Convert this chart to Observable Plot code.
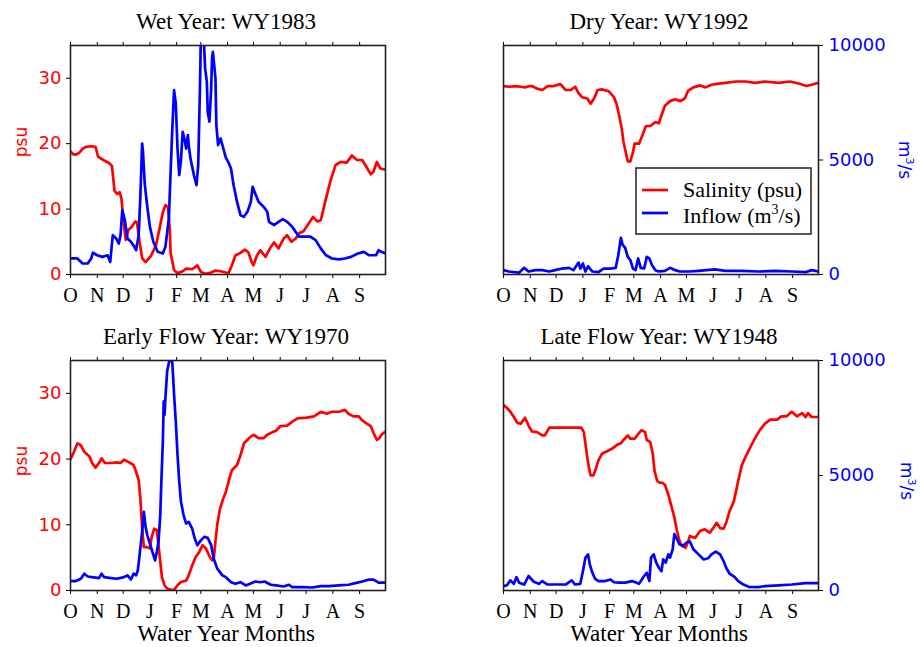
<!DOCTYPE html>
<html><head><meta charset="utf-8">
<script src="https://cdn.jsdelivr.net/npm/d3@7"></script>
<script src="https://cdn.jsdelivr.net/npm/@observablehq/plot@0.6"></script>
<style>
body{margin:0;background:#fff;}
#wrap{position:relative;width:920px;height:647px;overflow:hidden;background:#fff;}
#wrap svg{position:absolute;}
</style></head>
<body><div id="wrap"></div>
<script>
// Water-year day index: 0 = Oct 1, 365 = Sep 30
const monthDays = [0,31,61,92,123,151,182,212,243,273,304,335];
const monthLabels = ["O","N","D","J","F","M","A","M","J","J","A","S"];
const psuTicks = [0,10,20,30];
const flowTicks = [0,5000,10000];
const panelTitles = ["Wet Year: WY1983","Dry Year: WY1992","Early Flow Year: WY1970","Late Flow Year: WY1948"];
const legendLabels = ["Salinity (psu)","Inflow (m","3","/s)"];
const xAxisTitle = "Water Year Months";

// [day, psu]
const wetSalinity = [[0,18.8],[3,18.4],[6,18.3],[10,18.6],[14,19.2],[18,19.5],[24,19.6],[29,19.5],[32,18.0],[38,17.5],[45,17.0],[48,16.6],[51,12.8],[54,12.3],[57,12.6],[59,11.6],[62,7.5],[64,5.3],[67,6.8],[71,7.3],[75,8.1],[77,8.0],[80,5.0],[83,2.5],[87,1.9],[93,2.8],[99,4.4],[103,6.9],[107,9.5],[110,10.6],[113,10.3],[115,6.9],[116,3.3],[120,0.7],[124,0.2],[130,0.5],[134,0.9],[141,0.8],[147,1.4],[151,0.4],[156,0.1],[161,0.2],[168,0.6],[174,0.5],[180,0.3],[183,0.2],[187,1.4],[191,2.9],[197,3.3],[202,3.8],[206,3.4],[210,1.9],[212,1.4],[216,2.9],[220,3.7],[226,2.7],[232,4.2],[236,4.9],[241,4.0],[247,5.5],[251,6.0],[256,5.0],[261,5.5],[265,6.3],[270,6.6],[276,7.8],[281,8.8],[286,8.1],[290,8.3],[296,11.6],[301,14.2],[307,16.7],[313,17.2],[320,17.1],[326,18.2],[332,17.5],[338,17.5],[344,16.2],[348,15.3],[351,15.7],[355,17.2],[359,16.2],[365,16.0]];
// [day, m3/s]
const wetInflow = [[0,700],[8,700],[14,480],[20,480],[24,700],[26,950],[31,840],[37,770],[43,840],[46,550],[49,1720],[53,1570],[56,1350],[58,1720],[60,2810],[63,2370],[66,1570],[70,1430],[74,1210],[76,1060],[79,1720],[81,3460],[83,5720],[84,5360],[86,3970],[89,2950],[92,2080],[96,1430],[101,990],[107,920],[110,1210],[114,2450],[116,4480],[118,6380],[120,8050],[122,7470],[124,5500],[126,4340],[128,4990],[130,6230],[132,5940],[134,5500],[136,6090],[137,5650],[139,5070],[143,4340],[146,3900],[148,4780],[150,8120],[151,10300],[154,10600],[156,9000],[158,8410],[159,7110],[161,6670],[163,8120],[164,9430],[165,9720],[168,8560],[169,6520],[171,5650],[174,5940],[176,5650],[180,5100],[183,4900],[186,4630],[189,3900],[193,3170],[197,2590],[201,2520],[205,2740],[209,3170],[211,3830],[214,3540],[218,3170],[224,2950],[228,2740],[230,2300],[236,2160],[241,2300],[246,2420],[251,2300],[257,2080],[261,1860],[265,1650],[270,1650],[278,1650],[284,1500],[290,1140],[296,840],[303,700],[311,660],[318,700],[325,770],[333,920],[340,990],[346,840],[354,840],[357,1060],[360,990],[365,920]];

const drySalinity = [[0,28.8],[7,28.7],[14,28.8],[20,28.7],[25,28.6],[30,28.8],[33,28.8],[39,28.4],[45,28.2],[51,28.8],[58,28.8],[66,29.1],[72,28.2],[78,28.2],[83,28.7],[87,27.7],[91,27.1],[97,26.9],[101,26.1],[105,26.9],[109,28.2],[114,28.3],[122,28.0],[128,27.1],[131,26.1],[134,24.3],[137,22.3],[139,20.3],[142,18.5],[144,17.3],[147,17.3],[150,18.7],[152,20.0],[157,20.0],[161,21.3],[165,22.7],[170,22.7],[176,23.3],[180,23.1],[183,24.3],[187,25.8],[193,26.5],[199,26.8],[205,26.5],[210,26.9],[214,28.1],[220,28.6],[228,28.9],[234,28.6],[241,29.0],[251,29.2],[257,29.3],[269,29.5],[280,29.5],[292,29.3],[303,29.5],[319,29.3],[332,29.5],[342,29.2],[351,28.8],[357,29.0],[365,29.3]];
const dryInflow = [[0,190],[6,130],[18,80],[24,290],[29,130],[37,190],[45,190],[53,130],[60,190],[68,260],[76,290],[81,190],[87,520],[89,260],[92,480],[95,130],[98,360],[103,130],[110,100],[116,260],[124,260],[130,290],[133,840],[136,1600],[138,1300],[141,1160],[144,770],[147,630],[150,260],[153,190],[156,700],[159,290],[163,260],[166,770],[169,700],[172,410],[176,190],[180,130],[187,160],[193,290],[199,190],[204,130],[216,130],[226,160],[245,220],[257,160],[276,160],[295,130],[315,160],[334,130],[350,100],[357,190],[365,130]];

const earlySalinity = [[0,20.0],[4,21.1],[8,22.4],[12,22.1],[16,21.1],[22,20.4],[25,19.4],[29,18.7],[33,19.4],[36,20.1],[40,19.4],[47,19.4],[54,19.5],[58,19.4],[62,19.9],[68,19.5],[73,19.1],[76,18.1],[79,16.8],[81,14.0],[83,9.4],[85,6.6],[89,6.6],[92,6.4],[94,8.1],[97,9.4],[100,9.2],[102,6.9],[104,4.4],[106,2.0],[109,0.8],[112,0.3],[116,0.1],[120,0.1],[124,0.8],[128,1.3],[134,1.5],[137,2.3],[141,3.8],[145,5.1],[149,5.8],[153,6.9],[157,6.4],[161,5.2],[164,4.6],[166,4.8],[168,7.5],[170,10.0],[173,12.3],[177,14.0],[180,15.0],[184,17.0],[187,18.3],[193,19.1],[197,20.6],[201,22.4],[207,23.2],[212,23.7],[218,23.2],[224,23.2],[228,23.7],[234,24.1],[238,24.3],[243,25.0],[251,25.1],[257,25.7],[263,26.2],[274,26.3],[282,26.5],[290,27.2],[297,26.9],[303,27.2],[311,27.2],[318,27.5],[322,26.9],[328,26.5],[334,26.5],[338,25.9],[342,25.5],[348,25.0],[351,24.0],[355,22.9],[358,23.2],[361,23.8],[365,24.2]];
const earlyInflow = [[0,410],[6,410],[12,510],[16,730],[20,610],[25,580],[33,540],[36,730],[39,580],[47,540],[54,510],[62,580],[66,660],[70,480],[73,730],[76,660],[78,870],[80,1530],[83,2550],[85,3420],[87,2770],[89,2400],[92,2040],[95,1670],[98,1310],[100,1670],[102,2110],[104,3280],[105,4440],[107,6480],[108,8220],[109,7640],[110,8370],[112,9540],[114,9900],[116,10200],[118,9900],[120,8520],[122,7350],[124,5900],[126,4730],[128,3860],[131,3280],[134,2910],[137,2980],[141,2690],[144,2260],[147,1970],[151,2180],[155,2330],[159,2290],[163,1970],[166,1380],[170,950],[176,660],[180,580],[186,360],[191,290],[197,360],[203,220],[208,290],[214,390],[220,360],[225,390],[232,250],[238,220],[247,175],[253,250],[257,150],[269,150],[280,130],[290,190],[299,190],[311,220],[322,250],[330,320],[338,390],[345,470],[351,470],[357,340],[365,340]];

const lateSalinity = [[0,28.2],[4,27.8],[8,27.2],[12,26.4],[16,25.5],[20,25.4],[25,26.3],[29,25.1],[33,24.2],[39,24.1],[45,23.6],[48,23.6],[53,24.8],[60,24.8],[76,24.8],[90,24.8],[93,24.1],[95,22.3],[97,20.3],[99,18.7],[101,17.5],[104,17.5],[107,18.5],[110,19.8],[114,20.8],[120,21.2],[126,21.6],[132,22.2],[136,22.4],[139,22.9],[144,23.6],[147,23.1],[152,23.1],[156,23.8],[160,24.4],[164,24.1],[166,22.9],[170,22.6],[173,20.8],[175,18.2],[178,16.7],[181,16.4],[184,16.4],[187,16.1],[191,14.6],[195,12.6],[198,11.1],[201,9.1],[204,7.5],[207,6.8],[211,6.5],[214,7.5],[216,8.3],[222,8.0],[228,9.1],[233,9.3],[239,8.8],[243,9.5],[247,10.3],[251,9.5],[255,9.4],[258,10.3],[262,12.1],[267,13.6],[272,16.7],[276,19.0],[281,20.5],[286,21.8],[292,23.3],[297,24.4],[303,25.4],[309,26.0],[317,26.0],[322,26.5],[328,26.5],[334,27.2],[340,26.5],[346,27.0],[350,26.4],[353,27.0],[357,26.4],[365,26.4]];
const lateInflow = [[0,190],[4,230],[8,440],[12,290],[15,580],[18,340],[24,260],[29,630],[35,380],[41,290],[45,410],[51,260],[60,260],[72,260],[79,440],[83,260],[89,290],[92,840],[95,1430],[98,1570],[100,1140],[103,770],[106,520],[110,410],[118,410],[124,480],[128,360],[134,340],[141,340],[149,410],[157,290],[163,630],[166,770],[169,410],[171,1430],[174,1570],[177,1210],[180,990],[183,840],[185,1350],[188,1210],[191,1570],[193,1430],[196,1790],[198,2450],[201,2230],[204,2010],[208,1940],[212,2080],[216,2130],[220,1790],[226,1570],[232,1350],[237,1400],[241,1570],[246,1690],[251,1570],[255,1280],[258,990],[262,730],[268,580],[272,410],[278,260],[284,160],[295,150],[303,190],[319,220],[334,260],[350,320],[365,320]];

const RED = "#ff0000", BLUE = "#0000ff";
const SERIF = "Liberation Serif, Times New Roman, serif";
const SANS = "DejaVu Sans, Verdana, sans-serif";

const panels = [
  {title: panelTitles[0], sal: wetSalinity, flow: wetInflow, x: 0, y: 0, h: 320, ml: 70, mr: 75, mt: 45, mb: 46, side: "left"},
  {title: panelTitles[1], sal: drySalinity, flow: dryInflow, x: 460, y: 0, h: 320, ml: 43, mr: 102, mt: 45, mb: 46, side: "right"},
  {title: panelTitles[2], sal: earlySalinity, flow: earlyInflow, x: 0, y: 320, h: 327, ml: 70, mr: 75, mt: 40, mb: 57, side: "left"},
  {title: panelTitles[3], sal: lateSalinity, flow: lateInflow, x: 460, y: 320, h: 327, ml: 43, mr: 102, mt: 40, mb: 57, side: "right"}
];

const wrap = document.getElementById("wrap");

for (const p of panels) {
  const common = {
    width: 460, height: p.h,
    marginLeft: p.ml, marginRight: p.mr, marginTop: p.mt, marginBottom: p.mb,
    x: {domain: [0, 365], axis: null},
    style: {background: "transparent", overflow: "visible"}
  };
  const salPlot = Plot.plot({
    ...common,
    y: {domain: [0, 35], axis: null},
    marks: [
      Plot.line(p.sal, {x: d => d[0], y: d => d[1], stroke: RED, strokeWidth: 2.7, clip: true}),
      ...(p.side === "left" ? [Plot.axisY(psuTicks, {anchor: "left", tickSize: 4, tickPadding: 5, stroke: "#000", fill: RED, fontSize: 18, fontFamily: SANS, label: null})] : []),
      Plot.axisX(monthDays, {anchor: "bottom", tickSize: 4, tickPadding: 9, stroke: "#000", fill: "#000", fontSize: 20, fontFamily: SERIF, label: null,
        tickFormat: d => monthLabels[monthDays.indexOf(d)]}),
      Plot.axisX(monthDays, {anchor: "top", tickSize: 4, stroke: "#000", fill: "none", label: null})
    ]
  });
  const flowPlot = Plot.plot({
    ...common,
    y: {domain: [0, 10000], axis: null},
    marks: [
      Plot.line(p.flow, {x: d => d[0], y: d => d[1], stroke: BLUE, strokeWidth: 2.7, clip: true}),
      ...(p.side === "right" ? [Plot.axisY(flowTicks, {anchor: "right", tickSize: 4, tickPadding: 6, stroke: "#000", fill: BLUE, fontSize: 18, fontFamily: SANS, label: null, tickFormat: d => String(d)})] : []),
      Plot.frame({stroke: "#222", strokeWidth: 1.6})
    ]
  });
  for (const s of [salPlot, flowPlot]) {
    s.style.left = p.x + "px";
    s.style.top = p.y + "px";
    wrap.appendChild(s);
  }
}

// Text overlay: titles, axis titles, legend
const svg = d3.select(wrap).append("svg")
  .attr("width", 920).attr("height", 647)
  .style("left", "0px").style("top", "0px").style("pointer-events", "none");

const titlePos = [[226, 28.5], [659, 28.5], [226, 344], [659, 344]];
panels.forEach((p, i) => {
  svg.append("text").attr("x", titlePos[i][0]).attr("y", titlePos[i][1])
    .attr("text-anchor", "middle").attr("font-family", SERIF).attr("font-size", 23).attr("fill", "#000")
    .text(p.title);
});
[[226, 641], [659, 641]].forEach(([x, y]) => {
  svg.append("text").attr("x", x).attr("y", y).attr("text-anchor", "middle")
    .attr("font-family", SERIF).attr("font-size", 23).attr("fill", "#000").text(xAxisTitle);
});
[[21, 142], [21, 461]].forEach(([x, y]) => {
  svg.append("text").attr("transform", `translate(${x},${y}) rotate(-90)`)
    .attr("text-anchor", "middle").attr("dy", "0.35em")
    .attr("font-family", SANS).attr("font-size", 17).attr("fill", RED).text("psu");
});
[[905, 160], [907, 481]].forEach(([x, y]) => {
  const t = svg.append("text").attr("transform", `translate(${x},${y}) rotate(90)`)
    .attr("text-anchor", "middle").attr("dy", "0.35em")
    .attr("font-family", SANS).attr("font-size", 17).attr("fill", BLUE);
  t.append("tspan").text("m");
  t.append("tspan").attr("dy", -7).attr("font-size", 11).text("3");
  t.append("tspan").attr("dy", 7).text("/s");
});

// Legend (top-right panel)
const lg = svg.append("g");
lg.append("rect").attr("x", 636).attr("y", 168).attr("width", 175).attr("height", 66)
  .attr("fill", "#fff").attr("stroke", "#222").attr("stroke-width", 1.5);
lg.append("line").attr("x1", 642).attr("x2", 668).attr("y1", 190).attr("y2", 190).attr("stroke", RED).attr("stroke-width", 2.7);
lg.append("line").attr("x1", 642).attr("x2", 668).attr("y1", 213).attr("y2", 213).attr("stroke", BLUE).attr("stroke-width", 2.7);
lg.append("text").attr("x", 683).attr("y", 197).attr("font-family", SERIF).attr("font-size", 22).attr("fill", "#000").text(legendLabels[0]);
const lt = lg.append("text").attr("x", 683).attr("y", 222.5).attr("font-family", SERIF).attr("font-size", 22).attr("fill", "#000");
lt.append("tspan").text(legendLabels[1]);
lt.append("tspan").attr("dy", -9).attr("font-size", 14).text(legendLabels[2]);
lt.append("tspan").attr("dy", 9).text(legendLabels[3]);
</script>
</body></html>
